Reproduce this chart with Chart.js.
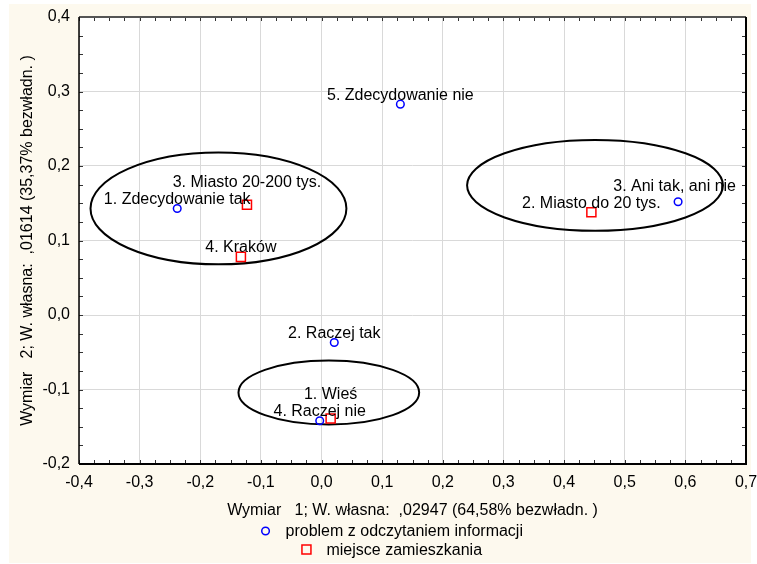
<!DOCTYPE html>
<html>
<head>
<meta charset="utf-8">
<script src="https://cdn.jsdelivr.net/npm/chart.js@4.4.1/dist/chart.umd.min.js"></script>
<style>
    html, body { margin: 0; padding: 0; background: #fff; }
    canvas { display: block; }
</style>
</head>
<body>
<canvas id="mapChart" width="757" height="564"></canvas>
<script>
// Dane: problem z odczytaniem informacji (kółka)
const problemNames = ["1. Zdecydowanie tak", "2. Raczej tak", "3. Ani tak, ani nie", "4. Raczej nie", "5. Zdecydowanie nie"];
const problemX = [-0.238, 0.021, 0.588, -0.003, 0.130];
const problemY = [0.143, -0.037, 0.152, -0.142, 0.283];

// Dane: miejsce zamieszkania (kwadraty)
const placeNames = ["1. Wieś", "2. Miasto do 20 tys.", "3. Miasto 20-200 tys.", "4. Kraków"];
const placeX = [0.015, 0.445, -0.123, -0.133];
const placeY = [-0.139, 0.138, 0.148, 0.078];

// Skupienia (elipsy) w jednostkach osi
const groupCx = [-0.170, 0.451, 0.012];
const groupCy = [0.143, 0.174, -0.104];
const groupRx = [0.211, 0.211, 0.149];
const groupRy = [0.075, 0.061, 0.043];

const xTickLabels = ["-0,4", "-0,3", "-0,2", "-0,1", "0,0", "0,1", "0,2", "0,3", "0,4", "0,5", "0,6", "0,7"];
const yTickLabels = ["-0,2", "-0,1", "0,0", "0,1", "0,2", "0,3", "0,4"];

const xTitle = "Wymiar   1; W. własna:  ,02947 (64,58% bezwładn. )";
const yTitle = "Wymiar   2; W. własna:  ,01614 (35,37% bezwładn. )";

const FONT = "'Liberation Sans', Arial, sans-serif";
const toPoints = (xs, ys) => xs.map((x, i) => ({ x: x, y: ys[i] }));

const overlayPlugin = {
    id: "overlay",
    beforeDraw(chart) {
        const { ctx, chartArea: a } = chart;
        ctx.save();
        ctx.fillStyle = "#ffffff";
        ctx.fillRect(0, 0, chart.width, chart.height);
        ctx.fillStyle = "#fdf9ee";
        ctx.fillRect(9, 4, 742, 559);
        ctx.fillStyle = "#ffffff";
        ctx.fillRect(a.left, a.top, a.right - a.left, a.bottom - a.top);
        ctx.restore();
    },
    beforeDatasetsDraw(chart) {
        const { ctx, chartArea: a, scales } = chart;
        const sx = scales.x, sy = scales.y;
        ctx.save();

        // drobne znaczniki co 0,025 po wewnętrznej stronie ramki
        ctx.strokeStyle = "#333";
        ctx.lineWidth = 1;
        ctx.beginPath();
        for (let i = 0; i <= 44; i++) {
            const px = Math.round(sx.getPixelForValue(-0.4 + i * 0.025)) + 0.5;
            ctx.moveTo(px, a.bottom); ctx.lineTo(px, a.bottom - 4);
            ctx.moveTo(px, a.top); ctx.lineTo(px, a.top + 4);
        }
        for (let i = 0; i <= 24; i++) {
            const py = Math.round(sy.getPixelForValue(-0.2 + i * 0.025)) + 0.5;
            ctx.moveTo(a.left, py); ctx.lineTo(a.left + 4, py);
            ctx.moveTo(a.right, py); ctx.lineTo(a.right - 4, py);
        }
        ctx.stroke();

        // ramka
        ctx.lineWidth = 2;
        ctx.strokeStyle = "#555";
        ctx.beginPath(); ctx.moveTo(a.left, a.top); ctx.lineTo(a.right, a.top); ctx.stroke();
        ctx.strokeStyle = "#000";
        ctx.beginPath(); ctx.moveTo(a.right, a.top); ctx.lineTo(a.right, a.bottom); ctx.lineTo(a.left, a.bottom); ctx.stroke();
        ctx.lineWidth = 1.5;
        ctx.beginPath(); ctx.moveTo(a.left, a.top); ctx.lineTo(a.left, a.bottom); ctx.stroke();

        // elipsy
        ctx.lineWidth = 2;
        ctx.strokeStyle = "#000";
        groupCx.forEach((cx, i) => {
            const px = sx.getPixelForValue(cx), py = sy.getPixelForValue(groupCy[i]);
            const rx = Math.abs(sx.getPixelForValue(cx + groupRx[i]) - px);
            const ry = Math.abs(sy.getPixelForValue(groupCy[i] + groupRy[i]) - py);
            ctx.beginPath();
            ctx.ellipse(px, py, rx, ry, 0, 0, Math.PI * 2);
            ctx.stroke();
        });
        ctx.restore();
    },
    afterDatasetsDraw(chart) {
        const { ctx, chartArea: a } = chart;
        ctx.save();
        ctx.font = "16px " + FONT;
        ctx.fillStyle = "#000";
        ctx.textAlign = "center";
        ctx.textBaseline = "middle";

        // etykiety punktów, od dołu; kolizje przesuwane linię wyżej
        const items = [];
        chart.data.datasets.forEach((ds, di) => {
            chart.getDatasetMeta(di).data.forEach((pt, i) => items.push({ text: ds.names[i], x: pt.x, y: pt.y }));
        });
        items.sort((p, q) => q.y - p.y);
        const placed = [];
        items.forEach(it => {
            const w = ctx.measureText(it.text).width;
            const cx = Math.min(it.x, a.right - 10 - w / 2);
            let cy = it.y - 9;
            let hit;
            do {
                hit = placed.find(p => Math.abs(p.cx - cx) < (p.w + w) / 2 && Math.abs(p.cy - cy) < 15);
                if (hit) cy = hit.cy - 17;
            } while (hit);
            placed.push({ cx, cy, w });
            ctx.fillText(it.text, cx, cy);
        });

        // legenda
        ctx.textAlign = "left";
        const legendCenter = 392;
        chart.data.datasets.forEach((ds, di) => {
            const w = ctx.measureText(ds.label).width;
            const start = legendCenter - (w + 24.5) / 2;
            const mx = start + 4.5;
            const my = a.bottom + 67 + di * 18.5;
            ctx.strokeStyle = ds.borderColor;
            ctx.lineWidth = 1.5;
            ctx.beginPath();
            if (ds.pointStyle === "rect") {
                ctx.rect(mx - 4.5, my - 4.5, 9, 9);
            } else {
                ctx.arc(mx, my, 3.8, 0, Math.PI * 2);
            }
            ctx.stroke();
            ctx.fillText(ds.label, mx + 20, my + 1);
        });
        ctx.restore();
    }
};

new Chart(document.getElementById("mapChart"), {
    type: "scatter",
    data: {
        datasets: [{
            label: "problem z odczytaniem informacji",
            names: problemNames,
            data: toPoints(problemX, problemY),
            pointStyle: "circle",
            pointRadius: 3.8,
            borderColor: "#0000ff",
            backgroundColor: "rgba(0,0,0,0)",
            borderWidth: 1.5
        }, {
            label: "miejsce zamieszkania",
            names: placeNames,
            data: toPoints(placeX, placeY),
            pointStyle: "rect",
            pointRadius: 6.4,
            borderColor: "#ff0000",
            backgroundColor: "rgba(0,0,0,0)",
            borderWidth: 1.5
        }]
    },
    options: {
        responsive: false,
        animation: false,
        devicePixelRatio: 1,
        layout: { padding: { left: 0, top: 17, right: 11, bottom: 0 } },
        plugins: {
            legend: { display: false },
            tooltip: { enabled: false }
        },
        scales: {
            x: {
                type: "linear",
                min: -0.4,
                max: 0.7,
                afterFit: s => { s.height = 100; s.paddingLeft = 0; s.paddingRight = 0; },
                ticks: {
                    stepSize: 0.1,
                    padding: 9,
                    color: "#000",
                    font: { family: FONT, size: 16 },
                    maxRotation: 0,
                    callback: (v, i) => xTickLabels[i]
                },
                grid: { color: "#d9d9d9", lineWidth: 1, drawTicks: false },
                border: { display: false },
                title: {
                    display: true,
                    text: xTitle,
                    color: "#000",
                    font: { family: FONT, size: 16 },
                    padding: { top: 0, bottom: 44 }
                }
            },
            y: {
                type: "linear",
                min: -0.2,
                max: 0.4,
                afterFit: s => { s.width = 79; s.paddingTop = 0; s.paddingBottom = 0; },
                ticks: {
                    stepSize: 0.1,
                    padding: 9,
                    color: "#000",
                    font: { family: FONT, size: 16 },
                    callback: (v, i) => yTickLabels[i]
                },
                grid: { color: "#d9d9d9", lineWidth: 1, drawTicks: false },
                border: { display: false },
                title: {
                    display: true,
                    text: yTitle,
                    color: "#000",
                    font: { family: FONT, size: 16 },
                    padding: { top: 18, bottom: 0 }
                }
            }
        }
    },
    plugins: [overlayPlugin]
});
</script>
</body>
</html>
